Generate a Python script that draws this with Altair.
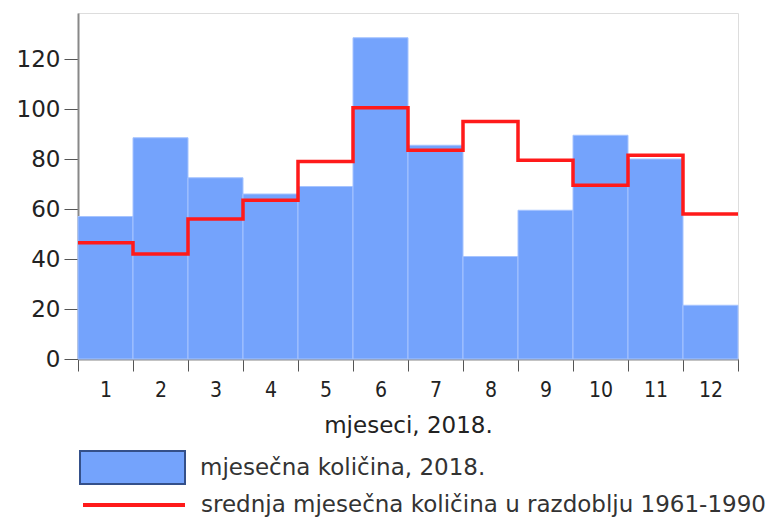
import altair as alt
import pandas as pd

months = list(range(1, 13))
precip_2018 = [57, 88.5, 72.5, 66, 69, 128.5, 85.5, 41, 59.5, 89.5, 80, 21.5]
mean_1961_1990 = [46.5, 42, 56, 63.5, 79, 100.5, 83.5, 95, 79.5, 69.5, 81.5, 58]

label_bar = "mjesečna količina, 2018."
label_line = "srednja mjesečna količina u razdoblju 1961-1990"

bars_df = pd.DataFrame({
    "x0": [m - 0.5 for m in months],
    "x1": [m + 0.5 for m in months],
    "value": precip_2018,
    "series": label_bar,
})

step_df = pd.DataFrame({
    "x": [m - 0.5 for m in months] + [months[-1] + 0.5],
    "value": mean_1961_1990 + [mean_1961_1990[-1]],
    "series": label_line,
})

FONT = "DejaVu Sans"
TXT = "#222222"
# ticks sit on the month boundaries; the label of month m is shifted to the band centre
x_ticks = [m - 0.5 for m in months] + [months[-1] + 0.5]

x_scale = alt.Scale(domain=[0.5, 12.5], nice=False, zero=False)
y_scale = alt.Scale(domain=[0, 138.4], nice=False)

x_axis = alt.Axis(
    values=x_ticks,
    title="mjeseci, 2018.",
    labelExpr="datum.value < 12 ? format(datum.value + 0.5, 'd') : ''",
    labelOffset=27.5,
    labelOverlap=False,
    labelFlush=False,
    grid=False,
    tickSize=12,
    tickColor="#555555",
    domainColor="#888888",
    domainWidth=2,
    labelFont="Liberation Sans Narrow, DejaVu Sans Condensed, DejaVu Sans",
    labelFontSize=21,
    labelColor=TXT,
    labelPadding=8,
    titleFont=FONT,
    titleFontSize=23,
    titleFontWeight="normal",
    titleColor=TXT,
    titlePadding=14,
)

y_axis = alt.Axis(
    values=[0, 20, 40, 60, 80, 100, 120],
    title=None,
    grid=False,
    tickSize=14,
    tickColor="#555555",
    domainColor="#888888",
    domainWidth=2,
    labelFont=FONT,
    labelFontSize=23,
    labelColor=TXT,
    labelPadding=4,
    labelFlush=False,
)

bars = alt.Chart(bars_df).mark_rect(
    stroke="#a6c4ff", strokeWidth=1
).encode(
    x=alt.X("x0:Q", scale=x_scale, axis=x_axis),
    x2="x1:Q",
    y=alt.Y("value:Q", scale=y_scale, axis=y_axis),
    y2=alt.datum(0),
    fill=alt.Fill(
        "series:N",
        scale=alt.Scale(domain=[label_bar], range=["#74a3fc"]),
        legend=alt.Legend(
            title=None,
            orient="none",
            legendX=1,
            legendY=401,
            symbolType="M-1,-0.314H1V0.314H-1Z",
            symbolSize=11025,
            symbolStrokeColor="#34508a",
            symbolStrokeWidth=2,
            symbolOpacity=1,
            labelFont=FONT,
            labelFontSize=23,
            labelColor="#333333",
            labelLimit=900,
            labelOffset=14,
            padding=0,
        ),
    ),
)

line = alt.Chart(step_df).mark_line(
    interpolate="step-after", strokeWidth=3.5
).encode(
    x="x:Q",
    y="value:Q",
    stroke=alt.Stroke(
        "series:N",
        scale=alt.Scale(domain=[label_line], range=["#ff1a1a"]),
        legend=alt.Legend(
            title=None,
            orient="none",
            legendX=3,
            legendY=439,
            symbolType="stroke",
            symbolSize=10404,
            symbolStrokeWidth=4,
            labelFont=FONT,
            labelFontSize=23,
            labelColor="#333333",
            labelLimit=900,
            labelOffset=14,
            padding=0,
        ),
    ),
)

chart = alt.layer(bars, line).properties(
    width=660,
    height=346,
    autosize=alt.AutoSizeParams(type="none"),
    padding={"left": 70, "top": 5, "right": 36, "bottom": 158},
).configure_view(
    stroke="#888888", strokeWidth=2
).configure(background="white")

chart.save("out.html", embed_options={"renderer": "svg", "actions": False})
